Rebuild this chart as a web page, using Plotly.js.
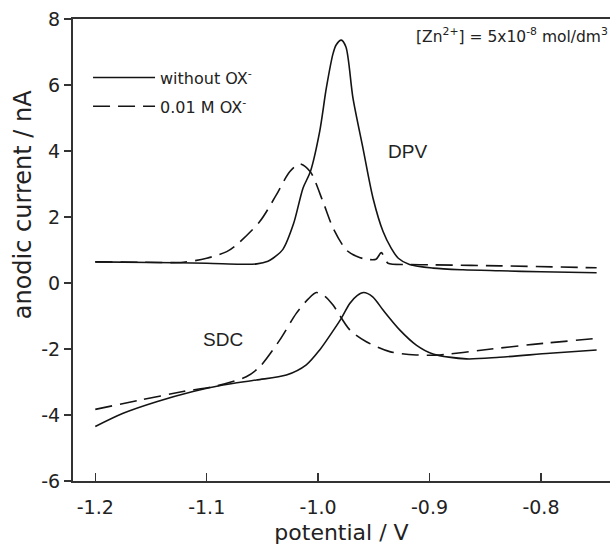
<!DOCTYPE html>
<html>
<head>
<meta charset="utf-8">
<script src="https://cdn.plot.ly/plotly-3.0.1.min.js"></script>
<style>html,body{margin:0;padding:0;background:#fff;}#chart{width:610px;height:545px;}</style>
</head>
<body>
<div id="chart"></div>
<script>
// DPV, without OX-
const dpvWithoutX = [-1.200,-1.150,-1.100,-1.070,-1.055,-1.045,-1.0405,-1.0316,-1.022,-1.0135,-1.007,-0.9986,-0.9926,-0.9866,-0.9837,-0.9792,-0.975,-0.9687,-0.9597,-0.9507,-0.9417,-0.9343,-0.928,-0.918,-0.8969,-0.870,-0.837,-0.800,-0.750];
const dpvWithoutY = [0.64,0.62,0.60,0.57,0.58,0.66,0.75,1.02,1.80,2.88,3.37,4.59,5.91,6.95,7.22,7.36,7.15,5.60,4.08,2.57,1.56,1.05,0.75,0.56,0.45,0.40,0.37,0.34,0.31];
// DPV, 0.01 M OX-
const dpvOxX = [-1.200,-1.160,-1.121,-1.100,-1.082,-1.0734,-1.0524,-1.0375,-1.0255,-1.0165,-1.007,-0.9956,-0.9866,-0.9747,-0.965,-0.9567,-0.948,-0.9433,-0.940,-0.9373,-0.9178,-0.8969,-0.837,-0.750];
const dpvOxY = [0.64,0.63,0.63,0.75,0.95,1.15,1.86,2.67,3.37,3.61,3.37,2.46,1.67,1.00,0.80,0.72,0.72,0.92,0.75,0.60,0.56,0.55,0.52,0.46];
// SDC, without OX-
const sdcWithoutX = [-1.200,-1.175,-1.145,-1.1123,-1.0854,-1.0555,-1.0285,-1.0106,-0.9986,-0.9866,-0.9792,-0.9716,-0.965,-0.9591,-0.951,-0.9417,-0.9268,-0.9119,-0.8969,-0.867,-0.837,-0.792,-0.750];
const sdcWithoutY = [-4.35,-3.95,-3.60,-3.29,-3.09,-2.94,-2.79,-2.48,-2.03,-1.45,-1.07,-0.62,-0.38,-0.29,-0.42,-0.82,-1.42,-1.88,-2.15,-2.30,-2.25,-2.13,-2.03];
// SDC, 0.01 M OX-
const sdcOxX = [-1.200,-1.160,-1.1213,-1.0914,-1.0645,-1.0524,-1.0345,-1.0196,-1.009,-1.0016,-0.994,-0.9866,-0.9716,-0.9567,-0.9357,-0.9119,-0.8909,-0.852,-0.807,-0.750];
const sdcOxY = [-3.83,-3.55,-3.29,-3.12,-2.84,-2.54,-1.73,-0.92,-0.49,-0.29,-0.40,-0.67,-1.42,-1.78,-2.08,-2.18,-2.18,-2.03,-1.86,-1.68];

const seriesNames = ['without OX<sup>-</sup>', '0.01 M OX<sup>-</sup>'];
const xTickVals = [-1.2,-1.1,-1.0,-0.9,-0.8];
const xTickText = ['-1.2','-1.1','-1.0','-0.9','-0.8'];
const yTickVals = [-6,-4,-2,0,2,4,6,8];
const yTickText = ['-6','-4','-2','0','2','4','6','8'];

const lineColor = '#141414';
const solid = {color: lineColor, width: 1.6, shape: 'spline', smoothing: 0.8};
const dashed = {color: lineColor, width: 1.6, dash: '17px,8px', shape: 'spline', smoothing: 0.8};

const traces = [
  {x: dpvWithoutX, y: dpvWithoutY, mode: 'lines', line: solid, name: seriesNames[0], legendgroup: 'a', showlegend: true},
  {x: dpvOxX, y: dpvOxY, mode: 'lines', line: dashed, name: seriesNames[1], legendgroup: 'b', showlegend: true},
  {x: sdcWithoutX, y: sdcWithoutY, mode: 'lines', line: solid, name: seriesNames[0], legendgroup: 'a', showlegend: false},
  {x: sdcOxX, y: sdcOxY, mode: 'lines', line: dashed, name: seriesNames[1], legendgroup: 'b', showlegend: false}
];

const tickFont = {family: 'DejaVu Sans', size: 19, color: '#222'};
const layout = {
  width: 610, height: 545,
  margin: {l: 73, r: 0, t: 19, b: 64},
  paper_bgcolor: '#fff', plot_bgcolor: '#fff',
  showlegend: true,
  legend: {x: 0.028, y: 0.91, xanchor: 'left', yanchor: 'top', itemwidth: 62,
           font: {family: 'DejaVu Sans', size: 16, color: '#222'}, bgcolor: 'rgba(0,0,0,0)',
           traceorder: 'grouped', tracegroupgap: 5},
  xaxis: {range: [-1.22, -0.738], tickvals: xTickVals, ticktext: xTickText,
          showline: true, mirror: true, linewidth: 2, linecolor: '#333',
          ticks: 'inside', ticklen: 8, tickwidth: 1.5, tickcolor: '#333',
          showgrid: false, zeroline: false, tickfont: tickFont, ticklabelstandoff: 8,
          title: {text: 'potential / V', font: {family: 'DejaVu Sans', size: 22, color: '#222'}, standoff: 15}},
  yaxis: {range: [-6, 8], tickvals: yTickVals, ticktext: yTickText,
          showline: true, mirror: false, linewidth: 2, linecolor: '#333',
          ticks: 'outside', ticklen: 7, tickwidth: 1.5, tickcolor: '#333',
          showgrid: false, zeroline: false, tickfont: tickFont},
  annotations: [
    {text: 'anodic current / nA', xref: 'paper', yref: 'paper', x: -0.093, y: 0.597,
     textangle: -90, showarrow: false, xanchor: 'center', yanchor: 'middle',
     font: {family: 'DejaVu Sans', size: 24, color: '#222'}},
    {text: '[Zn<sup>2+</sup>] = 5x10<sup>-8</sup> mol/dm<sup>3</sup>', xref: 'paper', yref: 'paper',
     x: 1, y: 0.965, xanchor: 'right', yanchor: 'middle', showarrow: false,
     font: {family: 'DejaVu Sans', size: 15.5, color: '#222'}},
    {text: 'DPV', xref: 'x', yref: 'y', x: -0.920, y: 3.97, showarrow: false,
     xanchor: 'center', yanchor: 'middle', font: {family: 'Liberation Sans', size: 19, color: '#222'}},
    {text: 'SDC', xref: 'x', yref: 'y', x: -1.085, y: -1.70, showarrow: false,
     xanchor: 'center', yanchor: 'middle', font: {family: 'Liberation Sans', size: 19, color: '#222'}}
  ]
};

Plotly.newPlot('chart', traces, layout, {displayModeBar: false, staticPlot: true});
</script>
</body>
</html>
